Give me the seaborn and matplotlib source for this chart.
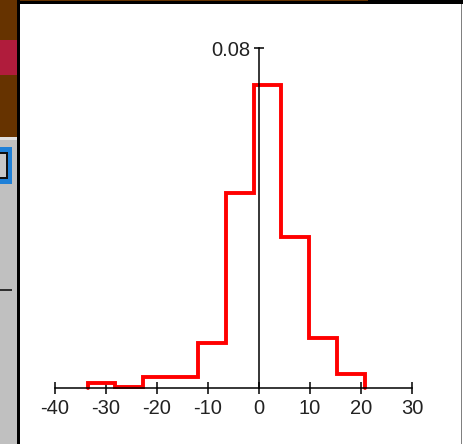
import numpy as np
import matplotlib
matplotlib.use("Agg")
import matplotlib.pyplot as plt
from matplotlib.patches import Rectangle
import seaborn as sns

# histogram (density per bin)
bin_edges = [-33.6, -28.2, -22.7, -17.3, -11.9, -6.4, -1.0, 4.4, 9.9, 15.3, 20.7]
densities = [0.0012, 0.0003, 0.0026, 0.0026, 0.0106, 0.0459, 0.0713, 0.0355, 0.0118, 0.0033]
x_ticks = [-40, -30, -20, -10, 0, 10, 20, 30]
y_ticks = [0.08]
y_tick_labels = ["0.08"]

W, H = 464, 444
sns.set_theme(style="white")
plt.rcParams["font.family"] = ["Liberation Sans", "DejaVu Sans"]

fig = plt.figure(figsize=(W / 100, H / 100), dpi=100)
fig.patch.set_facecolor("white")


def px_rect(x, y, w, h, color):
    # rectangle given in image pixels (top-left origin)
    fig.patches.append(Rectangle((x / W, 1 - (y + h) / H), w / W, h / H,
                                 transform=fig.transFigure, facecolor=color,
                                 edgecolor="none", zorder=1))


# window chrome around the plot
px_rect(0, 0, 17, 137, "#663300")
px_rect(0, 40, 17, 35, "#b01c3c")
px_rect(0, 137, 17, 3, "#e0e0e0")
px_rect(0, 140, 17, 304, "#c0c0c0")
px_rect(0, 147, 12, 37, "#1e80d8")
px_rect(0, 152, 8, 27, "#101010")
px_rect(0, 154, 6, 23, "#c8c8c8")
px_rect(0, 289, 12, 2, "#303030")
px_rect(17, 0, 3, H, "#000000")
px_rect(20, 0, W - 20, 4, "#000000")
px_rect(20, 0, 348, 1, "#663300")
px_rect(461, 4, 1.5, H - 4, "#808080")

ax = fig.add_axes([21 / W, 0, 440 / W, 440 / H])
ax.set_facecolor("none")

centers = [(a + b) / 2 for a, b in zip(bin_edges[:-1], bin_edges[1:])]
sns.histplot(x=centers, weights=densities, bins=bin_edges, element="step",
             fill=False, color="red", linewidth=2.8, ax=ax)

# close the outline down to the baseline at both ends
line = ax.lines[-1]
xs, ys = line.get_data()
xs = np.concatenate([[xs[0]], xs, [xs[-1]]])
ys = np.concatenate([[0], ys, [0]])
line.set_data(xs, ys)
line.set_solid_joinstyle("miter")

ax.set_xlim((21 - 259) / 5.1, (461 - 259) / 5.1)
ax.set_ylim((388 - 444) / 4250, (388 - 4) / 4250)

for side in ["top", "right"]:
    ax.spines[side].set_visible(False)
ax.spines["bottom"].set_position(("data", 0))
ax.spines["left"].set_position(("data", 0))
ax.spines["bottom"].set_bounds(x_ticks[0], x_ticks[-1])
ax.spines["left"].set_bounds(0, y_ticks[-1])
for side in ["bottom", "left"]:
    ax.spines[side].set_color("black")
    ax.spines[side].set_linewidth(1.1)
    ax.spines[side].set_zorder(5)

ax.set_xticks(x_ticks)
ax.set_xticklabels([str(t) for t in x_ticks])
ax.set_yticks(y_ticks)
ax.set_yticklabels(y_tick_labels)
ax.tick_params(axis="x", bottom=True, direction="inout", length=8, width=1.1,
               pad=4, labelsize=14.5, colors="black", labelcolor="#222222")
ax.tick_params(axis="y", left=True, direction="inout", length=6.5, width=1.1,
               pad=3.2, labelsize=14.5, colors="black", labelcolor="#222222")
ax.set_xlabel("")
ax.set_ylabel("")
ax.grid(False)

fig.savefig("out.png", dpi=100)
